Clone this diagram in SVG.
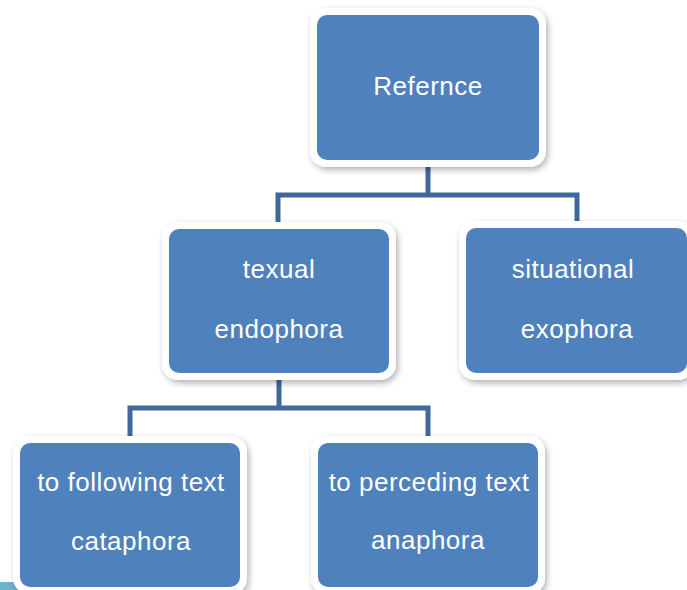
<svg xmlns="http://www.w3.org/2000/svg" width="687" height="590" viewBox="0 0 687 590">
<defs>
<filter id="sh" x="-10%" y="-10%" width="125%" height="130%">
<feDropShadow dx="2" dy="3" stdDeviation="3" flood-color="#000" flood-opacity="0.3"/>
</filter>
<style>
.frame{fill:#ffffff;filter:url(#sh)}
.box{fill:#4f81bd}
.lbl{font-family:"Liberation Sans",Arial,sans-serif;font-size:26px;letter-spacing:0.5px;fill:#ffffff;text-anchor:middle}
.con{fill:none;stroke:#3f699d;stroke-width:5}
</style>
</defs>
<rect width="687" height="590" fill="#ffffff"/>
<rect x="0" y="582" width="22" height="8" fill="#6cb3d3"/>
<g id="connectors">
<path class="con" d="M428,165 V195 M278,224 V195 H577 V224"/>
<path class="con" d="M279,380 V408 M130,438 V408 H428 V438"/>
</g>
<g id="node-refernce">
<rect class="frame" x="310" y="8" width="236" height="159" rx="16"/>
<rect class="box" x="317" y="15" width="222" height="145" rx="10"/>
<text class="lbl" x="428" y="95">Refernce</text>
</g>
<g id="node-texual">
<rect class="frame" x="162" y="222" width="234" height="158" rx="16"/>
<rect class="box" x="169" y="229" width="220" height="144" rx="10"/>
<text class="lbl" x="279" y="278">texual</text>
<text class="lbl" x="279" y="338">endophora</text>
</g>
<g id="node-situational">
<rect class="frame" x="459" y="221" width="235" height="159" rx="16"/>
<rect class="box" x="466" y="228" width="221" height="145" rx="10"/>
<text class="lbl" x="573" y="278">situational</text>
<text class="lbl" x="577" y="338">exophora</text>
</g>
<g id="node-cataphora">
<rect class="frame" x="13" y="436" width="234" height="158" rx="16"/>
<rect class="box" x="20" y="443" width="220" height="144" rx="10"/>
<text class="lbl" x="131" y="491">to following text</text>
<text class="lbl" x="131" y="550">cataphora</text>
</g>
<g id="node-anaphora">
<rect class="frame" x="311" y="436" width="234" height="158" rx="16"/>
<rect class="box" x="318" y="443" width="220" height="144" rx="10"/>
<text class="lbl" x="429" y="491">to perceding text</text>
<text class="lbl" x="428" y="549">anaphora</text>
</g>
</svg>
